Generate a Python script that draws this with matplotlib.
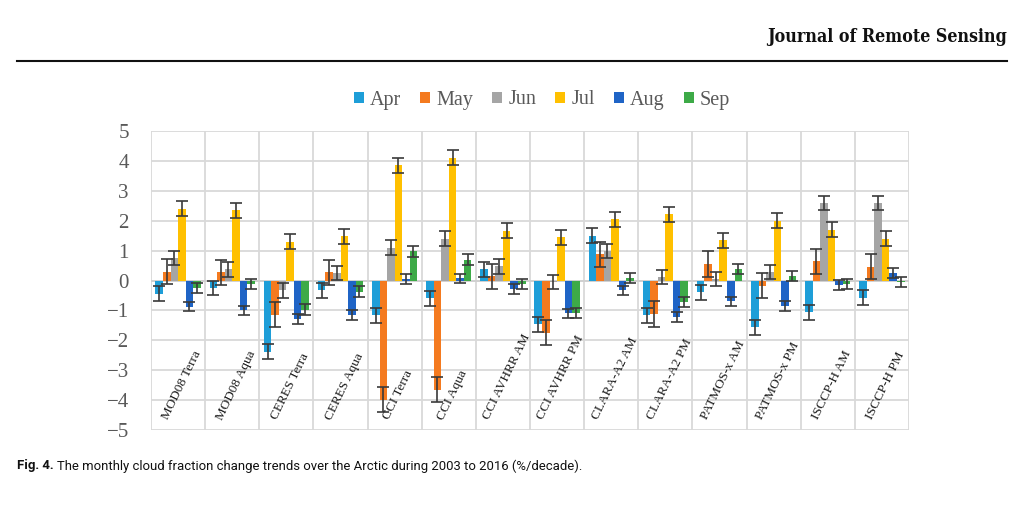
import numpy as np
import matplotlib
matplotlib.use("Agg")
import matplotlib.pyplot as plt
from matplotlib.patches import Patch

categories = ["MOD08 Terra", "MOD08 Aqua", "CERES Terra", "CERES Aqua", "CCI Terra",
              "CCI Aqua", "CCI AVHRR AM", "CCI AVHRR PM", "CLARA-A2 AM", "CLARA-A2 PM",
              "PATMOS-x AM", "PATMOS-x PM", "ISCCP-H AM", "ISCCP-H PM"]
months = ["Apr", "May", "Jun", "Jul", "Aug", "Sep"]

apr = [-0.45, -0.25, -2.38, -0.33, -1.17, -0.60, 0.37, -1.47, 1.50, -1.17, -0.40, -1.57, -1.07, -0.58]
may = [0.30, 0.27, -1.15, 0.27, -3.98, -3.65, 0.14, -1.74, 0.87, -1.12, 0.55, -0.17, 0.65, 0.46]
jun = [0.75, 0.37, -0.33, 0.25, 1.10, 1.40, 0.47, -0.05, 0.98, 0.12, 0.05, 0.28, 2.60, 2.60]
jul = [2.40, 2.35, 1.30, 1.48, 3.85, 4.10, 1.67, 1.45, 2.05, 2.22, 1.35, 2.00, 1.70, 1.40]
aug = [-0.87, -1.00, -1.28, -1.15, 0.05, 0.07, -0.29, -1.10, -0.33, -1.22, -0.70, -0.86, -0.15, 0.25]
sep = [-0.25, -0.12, -0.97, -0.37, 0.97, 0.70, -0.12, -1.08, 0.07, -0.72, 0.38, 0.15, -0.13, -0.05]
series = [apr, may, jun, jul, aug, sep]

errors = [0.25, 0.42, 0.24, 0.25, 0.16, 0.17]

colors = ["#1E9ED8", "#F47A1F", "#A5A5A5", "#FFC000", "#1F64C6", "#3DAA47"]

fig = plt.figure(figsize=(10.24, 5.12), dpi=100)
fig.patch.set_facecolor("white")

ax = fig.add_axes([151/1024, (512-430)/512, 758/1024, 299/512])

n = len(categories)
x = np.arange(n)
bw = 0.139
offsets = (np.arange(6) - 2.5) * bw
for i, (vals, c) in enumerate(zip(series, colors)):
    ax.bar(x + offsets[i], vals, width=bw, color=c, zorder=3,
           yerr=errors[i], error_kw=dict(ecolor="#3a3a3a", elinewidth=1.2, capsize=4.5, capthick=1.2, zorder=4))

ax.set_xlim(-0.5, n - 0.5)
ax.set_ylim(-5, 5)
ax.set_yticks(np.arange(-5, 6, 1))
ax.set_yticklabels([str(v).replace("-", "\u2212") for v in range(-5, 6)],
                   fontfamily="Liberation Serif", fontsize=15, color="#595959")
ax.tick_params(axis="y", length=0, pad=16)
ax.set_xticks([])
for b in np.arange(-0.5, n, 1.0):
    ax.axvline(b, color="#d9d9d9", lw=1.3, zorder=1)
ax.grid(axis="y", color="#d9d9d9", lw=1.3, zorder=1)
ax.axhline(0, color="#d0d0d0", lw=1.3, zorder=2)
for s in ax.spines.values():
    s.set_visible(False)

for i, cat in enumerate(categories):
    ax.text(i + 0.07, -4.72, cat, rotation=64, rotation_mode="default",
            ha="center", va="bottom", fontfamily="Liberation Serif", fontsize=9.5,
            color="#1a1a1a", zorder=5)

handles = [Patch(facecolor=c, label=m) for c, m in zip(colors, months)]
leg = fig.legend(handles=handles, loc="center", bbox_to_anchor=(542/1024, 1 - 100/512),
                 ncol=6, frameon=False, prop=dict(family="Liberation Serif", size=14.5),
                 handlelength=0.5, handleheight=0.5, handletextpad=0.3, columnspacing=0.95)
for t in leg.get_texts():
    t.set_color("#595959")

fig.canvas.draw()
r = fig.canvas.get_renderer()

# header, fitted to the reference width
hdr = fig.text(1007/1024, 1 - 37/512, "Journal of Remote Sensing", ha="right", va="center",
               fontfamily="DejaVu Serif", fontstretch="condensed", fontweight="semibold",
               fontsize=16, color="#111111")
fig.canvas.draw()
hw = hdr.get_window_extent(r).width
hdr.set_fontsize(16 * 241 / hw)
fig.add_artist(plt.Line2D([17/1024, 1007/1024], [1 - 61/512, 1 - 61/512], color="#111111", lw=1.5))

# caption, sized to span the reference width
cap_y = 1 - 466/512
cap_font = ["Roboto", "DejaVu Sans"]
size = 10.0
t1 = fig.text(17/1024, cap_y, "Fig. 4.", ha="left", va="center",
              fontfamily=cap_font, fontsize=size, fontweight="bold", color="#111111")
t2 = fig.text(0, cap_y, "The monthly cloud fraction change trends over the Arctic during 2003 to 2016 (%/decade).",
              ha="left", va="center", fontfamily=cap_font, fontsize=size, color="#111111")
fig.canvas.draw()
w = t1.get_window_extent(r).width + 4 + t2.get_window_extent(r).width
size = size * (583 - 17) / w
t1.set_fontsize(size)
t2.set_fontsize(size)
fig.canvas.draw()
bb = t1.get_window_extent(r)
t2.set_x((bb.x1 + 3.5) / 1024)

fig.savefig("out.png", dpi=100, facecolor="white")
